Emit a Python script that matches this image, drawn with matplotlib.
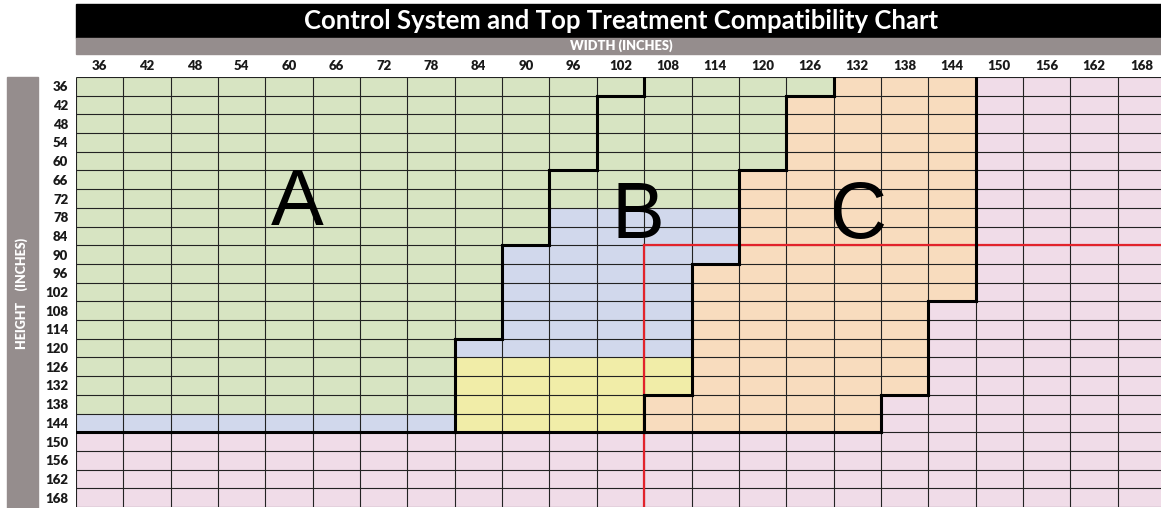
import numpy as np
import matplotlib.pyplot as plt
from matplotlib.colors import ListedColormap
from matplotlib.collections import LineCollection
from matplotlib.patches import Rectangle

plt.rcParams['font.family'] = ['Lato', 'DejaVu Sans']

widths = list(range(36, 169, 6))
heights = list(range(36, 169, 6))

# one string per height, one letter per width
# G green, B blue, Y yellow, O orange, P pink
cells = [
    "GGGGGGGGGGGGGGGGOOOPPPP",  # 36
    "GGGGGGGGGGGGGGGOOOOPPPP",  # 42
    "GGGGGGGGGGGGGGGOOOOPPPP",  # 48
    "GGGGGGGGGGGGGGGOOOOPPPP",  # 54
    "GGGGGGGGGGGGGGGOOOOPPPP",  # 60
    "GGGGGGGGGGGGGGOOOOOPPPP",  # 66
    "GGGGGGGGGGGGGGOOOOOPPPP",  # 72
    "GGGGGGGGGGBBBBOOOOOPPPP",  # 78
    "GGGGGGGGGGBBBBOOOOOPPPP",  # 84
    "GGGGGGGGGBBBBBOOOOOPPPP",  # 90
    "GGGGGGGGGBBBBOOOOOOPPPP",  # 96
    "GGGGGGGGGBBBBOOOOOOPPPP",  # 102
    "GGGGGGGGGBBBBOOOOOPPPPP",  # 108
    "GGGGGGGGGBBBBOOOOOPPPPP",  # 114
    "GGGGGGGGBBBBBOOOOOPPPPP",  # 120
    "GGGGGGGGYYYYYOOOOOPPPPP",  # 126
    "GGGGGGGGYYYYYOOOOOPPPPP",  # 132
    "GGGGGGGGYYYYOOOOOPPPPPP",  # 138
    "BBBBBBBBYYYYOOOOOPPPPPP",  # 144
    "PPPPPPPPPPPPPPPPPPPPPPP",  # 150
    "PPPPPPPPPPPPPPPPPPPPPPP",  # 156
    "PPPPPPPPPPPPPPPPPPPPPPP",  # 162
    "PPPPPPPPPPPPPPPPPPPPPPP",  # 168
]

# widest width that still belongs to system A, per height (0 = none)
a_limit = [102, 96, 96, 96, 96, 90, 90, 90, 90, 84, 84, 84, 84, 84,
           78, 78, 78, 78, 78, 0, 0, 0, 0]

red_w = 105
red_h = 87

zone_names = ['A', 'B', 'C']
zone_x = [61, 104.2, 132.2]
zone_y = [80.5, 84.6, 84.6]

codes = 'GBYOP'
colors = {'G': '#D7E4C2', 'B': '#D1D8EC', 'Y': '#F1EDA8', 'O': '#F8DCBE', 'P': '#F0DCE8'}
grey = '#958D8D'

grid = np.array([[codes.index(c) for c in row] for row in cells])

# zones: 0 A, 1 B, 2 C, 3 outside
zone = np.zeros_like(grid)
for i, h in enumerate(heights):
    for j, w in enumerate(widths):
        c = cells[i][j]
        if c == 'P':
            zone[i, j] = 3
        elif c == 'O':
            zone[i, j] = 2
        elif w <= a_limit[i]:
            zone[i, j] = 0
        else:
            zone[i, j] = 1

W, H = 1161, 508
fig = plt.figure(figsize=(W / 100, H / 100), dpi=100)
ax = fig.add_axes([76 / W, 1 / H, 1089 / W, 430 / H])

xe = np.append(np.array(widths) - 3, widths[-1] + 3)
ye = np.append(np.array(heights) - 3, heights[-1] + 3)
cmap = ListedColormap([colors[c] for c in codes])
ax.pcolormesh(xe, ye, grid, cmap=cmap, vmin=-0.5, vmax=len(codes) - 0.5)

ax.vlines(xe, ye[0], ye[-1], color='#222222', lw=0.8, zorder=2)
ax.hlines(ye, xe[0], xe[-1], color='#222222', lw=0.8, zorder=2)

ax.plot([red_w, red_w], [red_h, ye[-1]], color='#E2232B', lw=1.6, zorder=3)
ax.plot([red_w, xe[-1]], [red_h, red_h], color='#E2232B', lw=1.6, zorder=3)

segs = []
for i in range(len(heights)):
    for j in range(len(widths)):
        x0, x1 = xe[j], xe[j + 1]
        y0, y1 = ye[i], ye[i + 1]
        if j + 1 < len(widths) and zone[i, j] != zone[i, j + 1]:
            segs.append([(x1, y0), (x1, y1)])
        if i + 1 < len(heights) and zone[i, j] != zone[i + 1, j]:
            segs.append([(x0, y1), (x1, y1)])
ax.add_collection(LineCollection(segs, colors='black', linewidths=2.2,
                                 capstyle='projecting', zorder=4))

for k in range(len(zone_names)):
    ax.text(zone_x[k], zone_y[k], zone_names[k], fontsize=57, family='Liberation Sans',
            ha='center', va='baseline', zorder=5)

ax.set_xlim(xe[0], xe[-1])
ax.set_ylim(ye[-1], ye[0])
ax.xaxis.tick_top()
ax.set_xticks(widths)
ax.set_xticklabels([str(w) for w in widths], fontweight='heavy', fontsize=9.5, color='#1a1a1a')
ax.set_yticks(heights)
ax.set_yticklabels([str(h) for h in heights], fontweight='heavy', fontsize=9.5, color='#1a1a1a')
ax.tick_params(axis='x', length=0, pad=3.5)
ax.tick_params(axis='y', length=0, pad=5.5)
for s in ax.spines.values():
    s.set_visible(False)

# header bars
fig.patches.append(Rectangle((76 / W, 1 - 38 / H), (W - 76) / W, 34 / H,
                             transform=fig.transFigure, color='black', zorder=0))
fig.patches.append(Rectangle((76 / W, 1 - 54 / H), (W - 76) / W, 16 / H,
                             transform=fig.transFigure, color=grey, zorder=0))
fig.patches.append(Rectangle((7 / W, 0), 31 / W, 431 / H,
                             transform=fig.transFigure, color=grey, zorder=0))

fig.text(621 / W, 1 - 21 / H, 'Control System and Top Treatment Compatibility Chart',
         ha='center', va='center', color='white', fontweight='bold', fontsize=18.5)
fig.text(621 / W, 1 - 45.5 / H, 'WIDTH (INCHES)', ha='center', va='center',
         color='white', fontweight='heavy', fontsize=9.3)
fig.text(22 / W, 1 - 293 / H, 'HEIGHT    (INCHES)', ha='center', va='center',
         rotation=90, color='white', fontweight='heavy', fontsize=9)

fig.savefig('out.png', dpi=100)
